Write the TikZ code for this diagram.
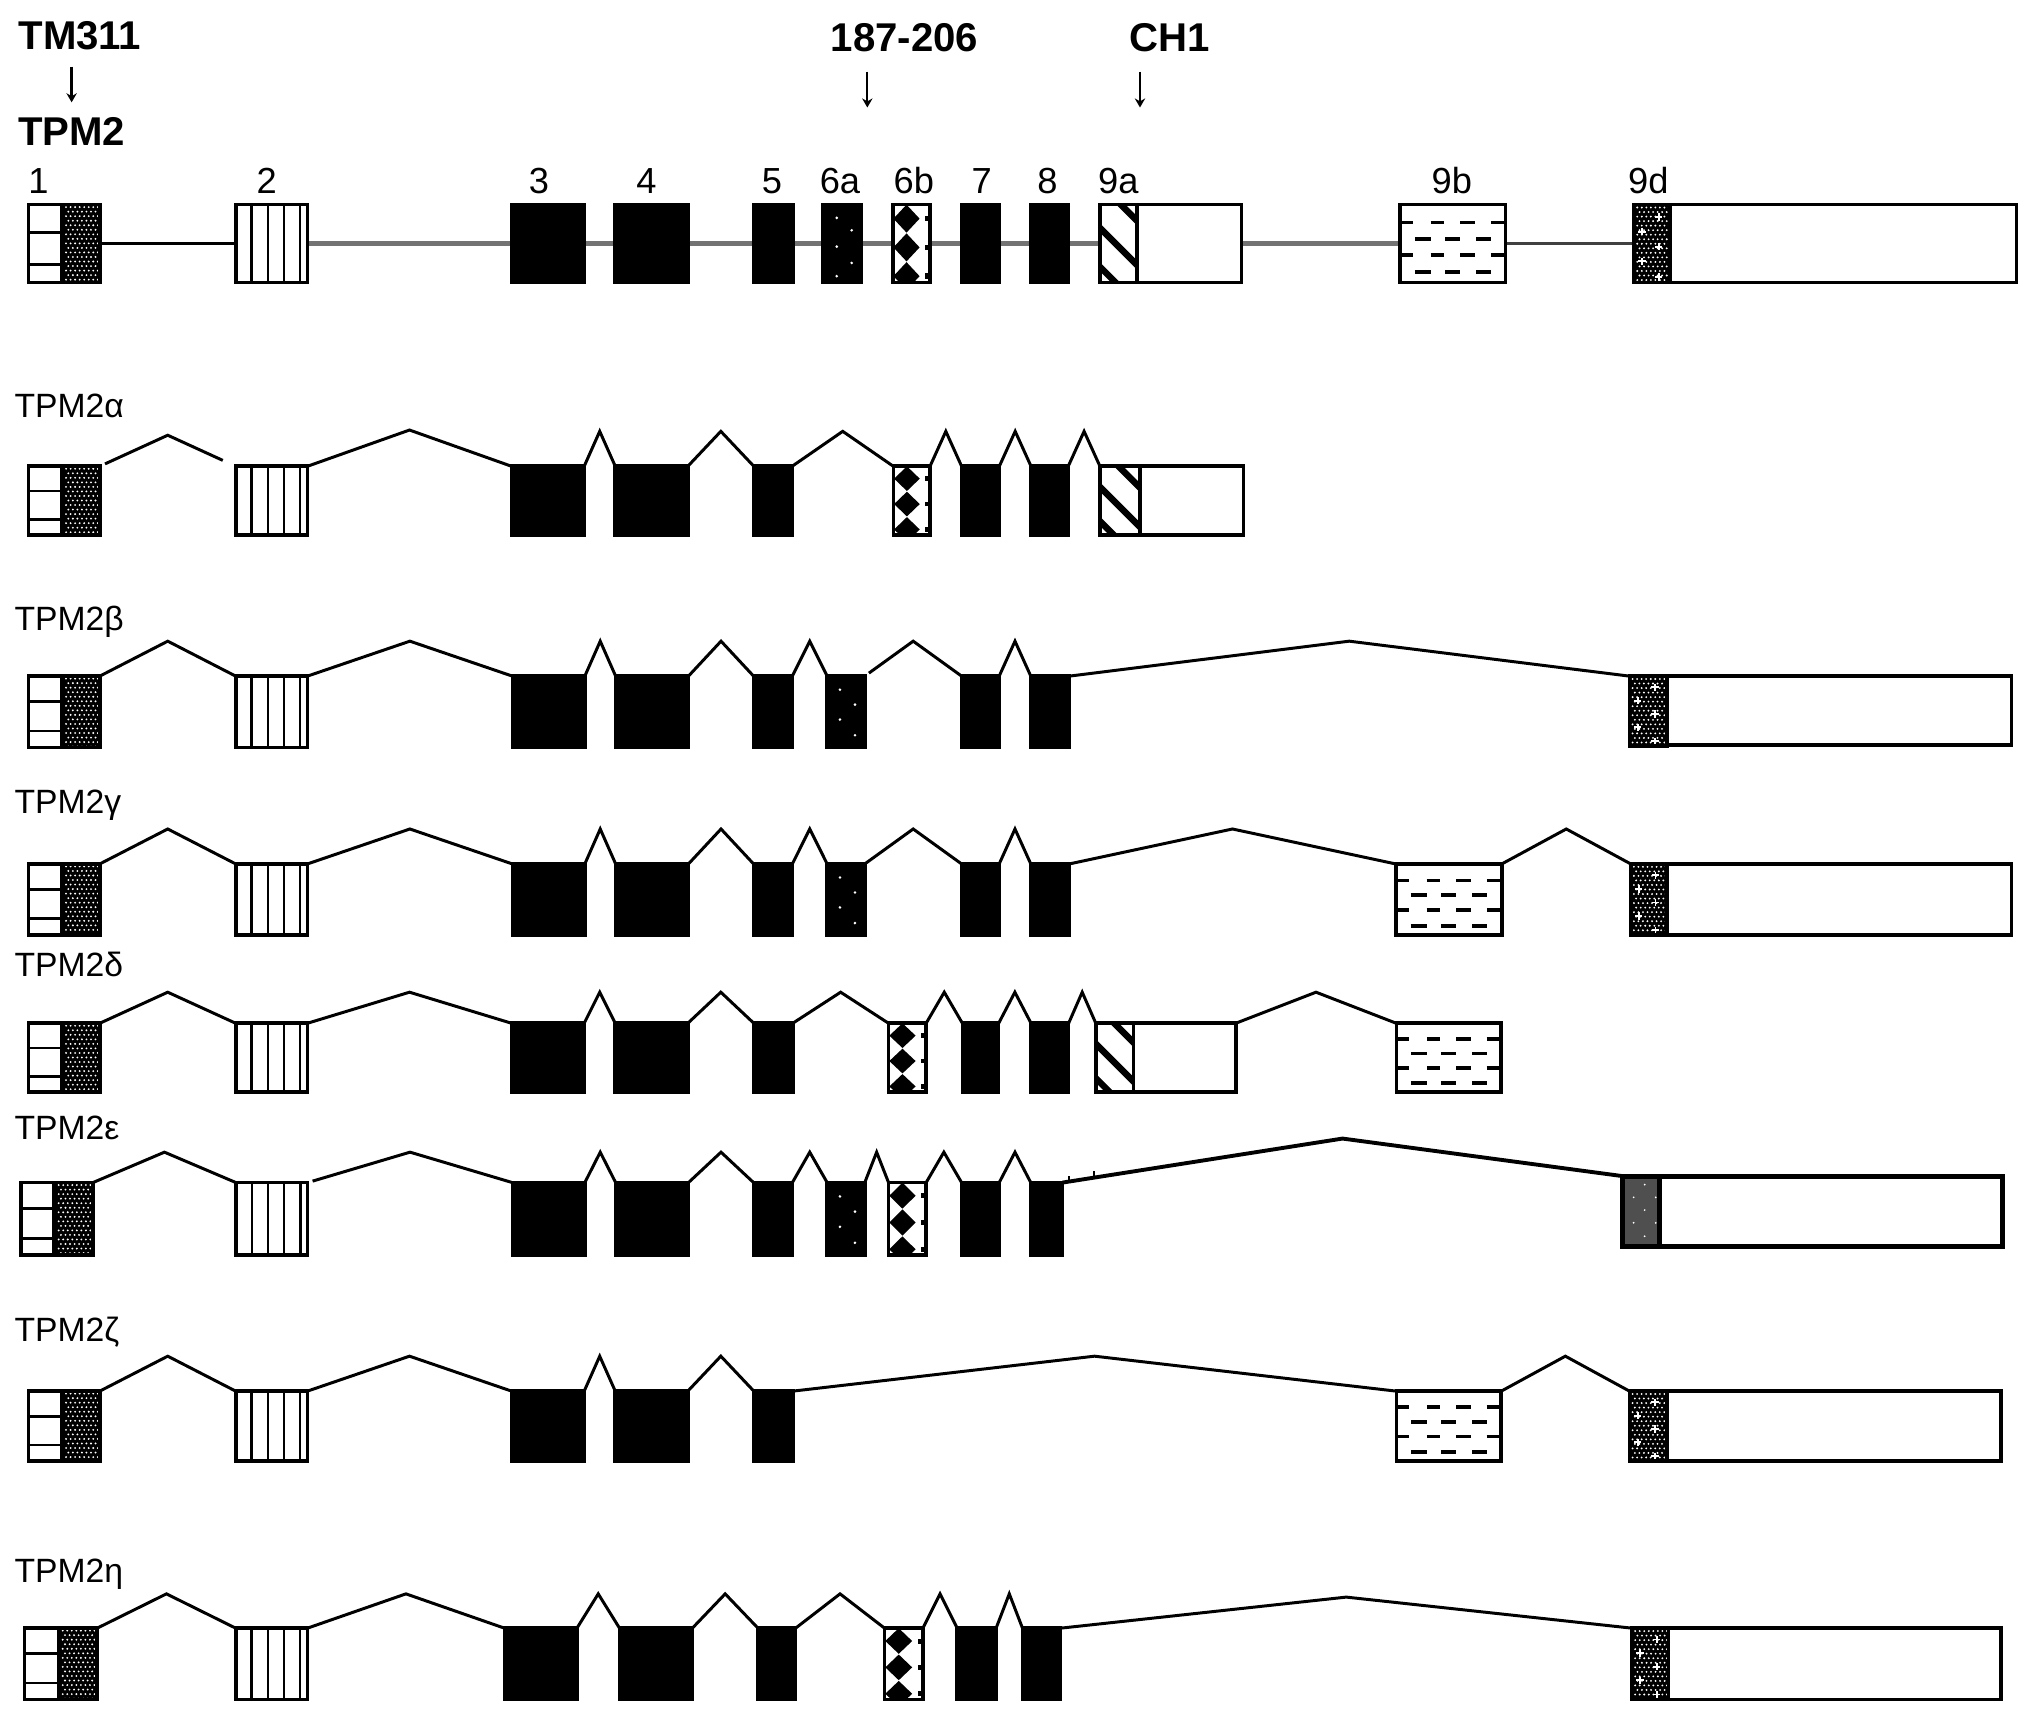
\documentclass[tikz,border=0pt]{standalone}
\usepackage{fontspec}
\setmainfont{Liberation Sans}
\usetikzlibrary{calc,arrows.meta}
\definecolor{grayninedark}{HTML}{4F4F4F}
\tikzset{
  exn/.style={rectangle, inner sep=0pt, outer sep=0pt, anchor=north west},
  exline/.style={line width=2.8pt, black, line join=miter},
  conn/.style={line width=2.3pt, black, line join=miter},
  intronk/.style={line width=2.4pt, black, shorten <=1.4pt, shorten >=1.4pt},
  introng/.style={line width=3.4pt, black!55, shorten <=1.4pt, shorten >=1.4pt},
  introngd/.style={line width=3pt, black!75, shorten <=1.4pt, shorten >=1.4pt},
  lab/.style={font=\fontsize{26}{30}\selectfont, anchor=base west, inner sep=0pt},
  hdr/.style={font=\fontsize{31}{36}\selectfont\bfseries, anchor=base, inner sep=0pt},
  num/.style={font=\fontsize{28}{32}\selectfont, anchor=base, inner sep=0pt},
  hdrarrow/.style={line width=1.8pt, -{Stealth[length=7pt,width=8pt]}},
}
\newcommand{\mkexnode}[5]{%
  \pgfmathsetmacro{\exW}{#3-#2}%
  \node[exn, minimum width=\exW pt, minimum height=#5pt] (#1) at (#2,#4) {};%
}
\newcommand{\exsolid}[5]{%
  \mkexnode{#1}{#2}{#3}{#4}{#5}%
  \draw[exline, fill=black] (#1.north west) rectangle (#1.south east);%
}
\newcommand{\exutr}[6][]{%
  \mkexnode{#2}{#3}{#4}{#5}{#6}%
  \draw[exline, fill=white, #1] (#2.north west) rectangle (#2.south east);%
}
\newcommand{\exone}[5]{%
  \mkexnode{#1}{#2}{#3}{#4}{#5}%
  \fill[white] (#1.north west) rectangle (#1.south east);
  \begin{scope}[shift={(#2,#4)}]
    \clip (0,0) rectangle (\exW,#5);
    \fill[black] ({0.44*\exW},0) rectangle (\exW,#5);
    \pgfmathsetmacro{\exXa}{0.44*\exW+4.8}
    \foreach \j in {0,...,17}{\foreach \i in {0,...,8}{
      \fill[white] ({\exXa+3.5*\i+1.75*mod(\j,2)},{1.9+3.5*\j}) circle (0.8pt);}}
    \draw[line width=2.2pt] (0,{0.36*#5}) -- ({0.44*\exW},{0.36*#5});
    \draw[line width=2.2pt] (0,{0.77*#5}) -- ({0.44*\exW},{0.77*#5});
  \end{scope}
  \draw[exline] (#1.north west) rectangle (#1.south east);
}
\newcommand{\extwo}[5]{%
  \mkexnode{#1}{#2}{#3}{#4}{#5}%
  \draw[exline, fill=white] (#1.north west) rectangle (#1.south east);
  \begin{scope}[shift={(#2,#4)}]
    \foreach \f in {0.22,0.45,0.67,0.90}{\draw[line width=1.7pt] ({\f*\exW},0) -- ({\f*\exW},#5);}
  \end{scope}
}
\newcommand{\exsixa}[6]{%
  \mkexnode{#1}{#2}{#3}{#4}{#5}%
  \draw[exline, fill=black] (#1.north west) rectangle (#1.south east);
  \begin{scope}[shift={(#2,#4)}]
    \foreach \fx/\fy in {#6}{\fill[white] ({\fx*\exW},{\fy*#5}) circle (1.1pt);}
  \end{scope}
}
\newcommand{\exsixb}[5]{%
  \mkexnode{#1}{#2}{#3}{#4}{#5}%
  \fill[white] (#1.north west) rectangle (#1.south east);
  \begin{scope}[shift={(#2,#4)}]
    \clip (0,0) rectangle (\exW,#5);
    \foreach \fy in {0.18,0.55,0.92}{
      \fill[black] ({0.37*\exW},{(\fy-0.18)*#5}) -- ({0.72*\exW},{\fy*#5}) -- ({0.37*\exW},{(\fy+0.18)*#5}) -- ({0.02*\exW},{\fy*#5}) -- cycle;
      \fill[black] ({0.86*\exW},{(\fy-0.035)*#5}) rectangle (\exW,{(\fy+0.035)*#5});
    }
  \end{scope}
  \draw[exline] (#1.north west) rectangle (#1.south east);
}
\newcommand{\exninea}[5]{%
  \mkexnode{#1}{#2}{#3}{#4}{#5}%
  \fill[white] (#1.north west) rectangle (#1.south east);
  \begin{scope}[shift={(#2,#4)}]
    \clip (0,0) rectangle (\exW,#5);
    \foreach \c in {-0.27,0.3,0.8}{\draw[line width=5pt] (-2,{\c*#5-2}) -- ({\exW+2},{\c*#5+\exW+2});}
  \end{scope}
  \draw[exline] (#1.north west) rectangle (#1.south east);
}
\newcommand{\exnineb}[5]{%
  \mkexnode{#1}{#2}{#3}{#4}{#5}%
  \draw[exline, fill=white] (#1.north west) rectangle (#1.south east);
  \begin{scope}[shift={(#2,#4)}]
    \clip (0,0) rectangle (\exW,#5);
    \foreach \fy in {0.23,0.65}{\foreach \a/\b in {0/0.12,0.29/0.42,0.57/0.71,0.86/1.0}{\draw[line width=2.8pt] ({\a*\exW},{\fy*#5}) -- ({\b*\exW},{\fy*#5});}}
    \foreach \fy in {0.44,0.87}{\foreach \a/\b in {0.14/0.29,0.43/0.57,0.72/0.86}{\draw[line width=2.8pt] ({\a*\exW},{\fy*#5}) -- ({\b*\exW},{\fy*#5});}}
  \end{scope}
}
\newcommand{\exnined}[5]{%
  \mkexnode{#1}{#2}{#3}{#4}{#5}%
  \fill[black] (#1.north west) rectangle (#1.south east);
  \begin{scope}[shift={(#2,#4)}]
    \clip (0,0) rectangle (\exW,#5);
    \foreach \j in {0,...,17}{\foreach \i in {0,...,8}{
      \fill[white] ({2.4+3.5*\i+1.75*mod(\j,2)},{2.2+3.5*\j}) circle (0.8pt);}}
    \foreach \fx/\fy in {0.68/0.16,0.22/0.35,0.68/0.54,0.22/0.73,0.68/0.93}{
      \draw[white, line width=1.4pt] ({\fx*\exW-2.8},{\fy*#5}) -- ({\fx*\exW+2.8},{\fy*#5}) ({\fx*\exW},{\fy*#5-2.8}) -- ({\fx*\exW},{\fy*#5+2.8});}
  \end{scope}
  \draw[exline] (#1.north west) rectangle (#1.south east);
}
\newcommand{\exninedg}[5]{%
  \mkexnode{#1}{#2}{#3}{#4}{#5}%
  \draw[line width=3.8pt, fill=grayninedark] (#1.north west) rectangle (#1.south east);
  \begin{scope}[shift={(#2,#4)}]
    \foreach \fx/\fy in {0.6/0.12,0.3/0.3,0.9/0.3,0.6/0.48,0.3/0.66,0.9/0.66,0.6/0.85}{\fill[white] ({\fx*\exW},{\fy*#5}) circle (0.75pt);}
  \end{scope}
}
\newcommand{\junc}[4][]{%
  \draw[conn,#1] (#2.north east) -- ($(#2.north east)!0.5!(#3.north west)+(0,-#4)$) -- (#3.north west);%
}
\begin{document}
\begin{tikzpicture}[x=1pt,y=-1pt]
\useasboundingbox (0,0) rectangle (1568,1325);
\fill[white] (0,0) rectangle (1568,1325);

% ---------- header ----------
\node[hdr] (hTM) at (61.7,38.6) {TM311};
\node[hdr] (hTPM) at (55.3,112) {TPM2};
\node[hdr] (hAb) at (698.4,39.9) {187-206};
\node[hdr] (hCH) at (903.3,40) {CH1};
\coordinate (ar1s) at (55.3,51.5);  \coordinate (ar1e) at (55.3,79);
\coordinate (ar2s) at (669.6,55.3); \coordinate (ar2e) at (669.6,83);
\coordinate (ar3s) at (880.1,55.3); \coordinate (ar3e) at (880.1,83);
\draw[hdrarrow] (ar1s) -- (ar1e);
\draw[hdrarrow] (ar2s) -- (ar2e);
\draw[hdrarrow] (ar3s) -- (ar3e);

% exon numbers
\node[num] (n1) at (29.6,149.5) {1};
\node[num] (n2) at (205.9,149.5) {2};
\node[num] (n3) at (416,149.5) {3};
\node[num] (n4) at (499,149.5) {4};
\node[num] (n5) at (596,149.5) {5};
\node[num] (n6a) at (648.5,149.5) {6a};
\node[num] (n6b) at (705.5,149.5) {6b};
\node[num] (n7) at (757.9,149.5) {7};
\node[num] (n8) at (808.7,149.5) {8};
\node[num] (n9a) at (863.4,149.5) {9a};
\node[num] (n9b) at (1120.8,149.5) {9b};
\node[num] (n9d) at (1272.6,149.5) {9d};

% ---------- genomic row ----------
\exone{t1}{22}{77}{158}{60}
\extwo{t2}{182}{237.3}{158}{60}
\exsolid{t3}{395}{451}{158}{60}
\exsolid{t4}{475}{531}{158}{60}
\exsolid{t5}{582}{612}{158}{60}
\exsixa{t6a}{635.6}{665.2}{158}{60}{0.35/0.17,0.74/0.33,0.35/0.54,0.74/0.75,0.35/0.92}
\exsixb{t6b}{689.2}{718}{158}{60}
\exsolid{t7}{742.4}{771.5}{158}{60}
\exsolid{t8}{795.7}{824.7}{158}{60}
\exninea{t9a}{849.2}{878}{158}{60}
\exutr{t9au}{878}{958.6}{158}{60}
\exnineb{t9b}{1080.8}{1162.4}{158}{60}
\exnined{t9d}{1261.6}{1289.4}{158}{60}
\exutr{t9du}{1289.4}{1556.7}{158}{60}
\draw[intronk] (t1.east) -- (t2.west);
\draw[introng] (t2.east) -- (t3.west);
\draw[introng] (t3.east) -- (t4.west);
\draw[introng] (t4.east) -- (t5.west);
\draw[introng] (t5.east) -- (t6a.west);
\draw[introng] (t6a.east) -- (t6b.west);
\draw[introng] (t6b.east) -- (t7.west);
\draw[introng] (t7.east) -- (t8.west);
\draw[introng] (t8.east) -- (t9a.west);
\draw[introng] (t9au.east) -- (t9b.west);
\draw[introngd] (t9b.east) -- (t9d.west);

% ---------- TPM2 alpha ----------
\node[lab] (la) at (11,322) {TPM2α};
\exone{a1}{22}{77}{360}{53}
\extwo{a2}{182}{237.3}{360}{53}
\exsolid{a3}{395}{451}{360}{53}
\exsolid{a4}{475}{531}{360}{53}
\exsolid{a5}{582}{611.5}{360}{53}
\exsixb{a6b}{689.7}{718}{360}{53}
\exsolid{a7}{742.4}{771.5}{360}{53}
\exsolid{a8}{796}{824.7}{360}{53}
\exninea{a9a}{849.2}{880}{360}{53}
\exutr{a9au}{880}{960}{360}{53}
\junc[shorten <=4.5pt, shorten >=11pt]{a1}{a2}{24}
\junc{a2}{a3}{28}
\junc{a3}{a4}{27}
\junc{a4}{a5}{27}
\junc{a5}{a6b}{27}
\junc{a6b}{a7}{27}
\junc{a7}{a8}{27}
\junc{a8}{a9a}{27}

% ---------- TPM2 beta ----------
\node[lab] (lb) at (11,487) {TPM2β};
\exone{b1}{22}{77}{522}{55}
\extwo{b2}{182}{237.3}{522}{55}
\exsolid{b3}{395.6}{451.5}{522}{55}
\exsolid{b4}{475.3}{531.5}{522}{55}
\exsolid{b5}{581.8}{611.7}{522}{55}
\exsixa{b6a}{638.6}{667.6}{522}{55}{0.34/0.19,0.74/0.40,0.34/0.61,0.74/0.83}
\exsolid{b7}{742.4}{771.4}{522}{55}
\exsolid{b8}{795.8}{825.4}{522}{55}
\exnined{b9d}{1258}{1287}{522}{54}
\exutr{b9du}{1287}{1553}{522}{53}
\junc{b1}{b2}{27}
\junc{b2}{b3}{27}
\junc{b3}{b4}{27}
\junc{b4}{b5}{27}
\junc{b5}{b6a}{27}
\junc[shorten <=4pt]{b6a}{b7}{27}
\junc{b7}{b8}{27}
\junc{b8}{b9d}{27}

% ---------- TPM2 gamma ----------
\node[lab] (lg) at (11,628) {TPM2γ};
\exone{g1}{22}{77}{667}{55}
\extwo{g2}{182}{237.3}{667}{55}
\exsolid{g3}{395.6}{451.5}{667}{55}
\exsolid{g4}{475.3}{531.5}{667}{55}
\exsolid{g5}{581.8}{611.7}{667}{55}
\exsixa{g6a}{638.6}{667.6}{667}{55}{0.34/0.19,0.74/0.40,0.34/0.61,0.74/0.83}
\exsolid{g7}{742.4}{771.4}{667}{55}
\exsolid{g8}{795.8}{825.4}{667}{55}
\exnineb{g9b}{1077.6}{1159.4}{667}{55}
\exnined{g9d}{1259}{1287}{667}{55}
\exutr{g9du}{1287}{1553}{667}{55}
\junc{g1}{g2}{27}
\junc{g2}{g3}{27}
\junc{g3}{g4}{27}
\junc{g4}{g5}{27}
\junc{g5}{g6a}{27}
\junc{g6a}{g7}{27}
\junc{g7}{g8}{27}
\junc{g8}{g9b}{27}
\junc{g9b}{g9d}{27}

% ---------- TPM2 delta ----------
\node[lab] (ld) at (11,754) {TPM2δ};
\exone{d1}{22}{77}{790}{53}
\extwo{d2}{182}{237.3}{790}{53}
\exsolid{d3}{395}{451}{790}{53}
\exsolid{d4}{475}{531}{790}{53}
\exsolid{d5}{582}{612}{790}{53}
\exsixb{d6b}{686}{715}{790}{53}
\exsolid{d7}{743}{771}{790}{53}
\exsolid{d8}{796}{825}{790}{53}
\exninea{d9a}{846}{875}{790}{53}
\exutr{d9au}{875}{954}{790}{53}
\exnineb{d9b}{1078}{1159}{790}{53}
\junc{d1}{d2}{24}
\junc{d2}{d3}{24}
\junc{d3}{d4}{24}
\junc{d4}{d5}{24}
\junc{d5}{d6b}{24}
\junc{d6b}{d7}{24}
\junc{d7}{d8}{24}
\junc{d8}{d9a}{24}
\junc{d9au}{d9b}{24}

% ---------- TPM2 epsilon ----------
\node[lab] (le) at (11,880) {TPM2ε};
\exone{e1}{16}{71.7}{913}{56}
\extwo{e2}{182.2}{237.5}{913}{56}
\exsolid{e3}{395.6}{451.5}{913}{56}
\exsolid{e4}{475.3}{531.5}{913}{56}
\exsolid{e5}{581.8}{611.7}{913}{56}
\exsixa{e6a}{638.6}{667.6}{913}{56}{0.34/0.19,0.74/0.40,0.34/0.61,0.74/0.83}
\exsixb{e6b}{686}{715}{913}{56}
\exsolid{e7}{742.4}{771.4}{913}{56}
\exsolid{e8}{795.8}{820.2}{913}{56}
\exninedg{e9d}{1252.7}{1281.1}{908}{54.6}
\exutr[line width=3.8pt]{e9du}{1281.1}{1546.1}{908}{54.6}
\junc{e1}{e2}{23.5}
\junc[shorten <=4pt]{e2}{e3}{23.5}
\junc{e3}{e4}{23.5}
\junc{e4}{e5}{23.5}
\junc{e5}{e6a}{23.5}
\junc{e6a}{e6b}{23.5}
\junc{e6b}{e7}{23.5}
\junc{e7}{e8}{23.5}
\junc[line width=3pt]{e8}{e9d}{31.5}
\coordinate (etk1) at (825.3,912.4);
\coordinate (etk2) at (844.6,909.4);
\draw[line width=1.4pt] (etk1) -- ++(0,-4.5);
\draw[line width=1.4pt] (etk2) -- ++(0,-5);

% ---------- TPM2 zeta ----------
\node[lab] (lz) at (11,1036) {TPM2ζ};
\exone{z1}{22}{77}{1074}{54}
\extwo{z2}{182}{237.3}{1074}{54}
\exsolid{z3}{395}{451}{1074}{54}
\exsolid{z4}{475}{531}{1074}{54}
\exsolid{z5}{582}{612}{1074}{54}
\exnineb{z9b}{1078}{1159}{1074}{54}
\exnined{z9d}{1258}{1287}{1074}{54}
\exutr{z9du}{1287}{1545}{1074}{54}
\junc{z1}{z2}{27}
\junc{z2}{z3}{27}
\junc{z3}{z4}{27}
\junc{z4}{z5}{27}
\junc{z5}{z9b}{27}
\junc{z9b}{z9d}{27}

% ---------- TPM2 eta ----------
\node[lab] (lh) at (11,1222) {TPM2η};
\exone{h1}{19}{75}{1257}{55}
\extwo{h2}{182}{237.3}{1257}{55}
\exsolid{h3}{389.5}{445.4}{1257}{55}
\exsolid{h4}{478.3}{534.5}{1257}{55}
\exsolid{h5}{585.2}{614.2}{1257}{55}
\exsixb{h6b}{682.9}{712.5}{1257}{55}
\exsolid{h7}{739}{769}{1257}{55}
\exsolid{h8}{789.4}{818.7}{1257}{55}
\exnined{h9d}{1260}{1288}{1257}{55}
\exutr{h9du}{1288}{1545}{1257}{55}
\junc{h1}{h2}{26.5}
\junc{h2}{h3}{26.5}
\junc{h3}{h4}{26.5}
\junc{h4}{h5}{26.5}
\junc{h5}{h6b}{26.5}
\junc{h6b}{h7}{26.5}
\junc{h7}{h8}{26.5}
\junc{h8}{h9d}{24}
\end{tikzpicture}
\end{document}
